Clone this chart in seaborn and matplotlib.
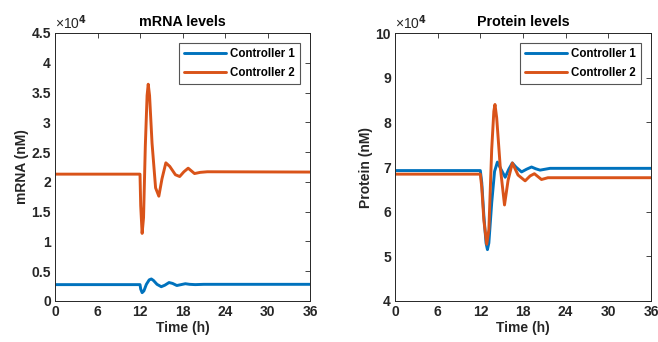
import numpy as np
import pandas as pd
import matplotlib
matplotlib.use("Agg")
import matplotlib.pyplot as plt
from matplotlib.ticker import FuncFormatter
import seaborn as sns

# ---- data, values in nM ----
mrna_c1_t = [0, 12.0, 12.1, 12.3, 12.55, 12.9, 13.3, 13.6, 13.9, 14.4, 15.0, 15.5, 16.1, 16.6, 17.2, 17.8, 18.4, 19.0, 19.8, 21.0, 36]
mrna_c1_v = [2750, 2750, 2000, 1400, 1700, 2800, 3550, 3700, 3450, 2800, 2400, 2650, 3100, 2950, 2600, 2750, 2900, 2800, 2750, 2800, 2800]
mrna_c2_t = [0, 12.0, 12.1, 12.3, 12.5, 12.75, 13.0, 13.16, 13.35, 13.7, 14.2, 14.66, 15.1, 15.65, 16.2, 17.0, 17.6, 18.2, 18.8, 19.3, 19.7, 20.5, 21.5, 36]
mrna_c2_v = [21300, 21300, 16000, 11350, 14000, 26000, 34500, 36400, 34500, 26500, 19000, 17600, 20500, 23200, 22600, 21200, 20900, 21700, 22300, 21800, 21400, 21600, 21700, 21650]

prot_c1_t = [0, 12.0, 12.2, 12.5, 12.8, 13.0, 13.2, 13.6, 14.0, 14.4, 14.9, 15.5, 16.0, 16.5, 17.0, 17.8, 18.5, 19.2, 19.8, 20.4, 21.8, 36]
prot_c1_v = [69200, 69200, 66500, 59000, 53000, 51500, 53000, 62000, 69000, 71100, 69500, 67700, 69500, 70900, 70000, 68900, 69500, 70000, 69600, 69300, 69700, 69700]
prot_c2_t = [0, 12.0, 12.2, 12.5, 12.9, 13.2, 13.6, 13.9, 14.06, 14.3, 14.8, 15.4, 15.9, 16.5, 17.3, 18.3, 19.0, 19.6, 20.6, 21.5, 36]
prot_c2_v = [68400, 68400, 65500, 58000, 52700, 56000, 74000, 82500, 84000, 81000, 70000, 61500, 67000, 70900, 68200, 66900, 68000, 68500, 67200, 67600, 67600]

series_names = ["Controller 1", "Controller 2"]
x_ticks = [0, 6, 12, 18, 24, 30, 36]
mrna_ticks = [0, 5000, 10000, 15000, 20000, 25000, 30000, 35000, 40000, 45000]
prot_ticks = [40000, 50000, 60000, 70000, 80000, 90000, 100000]

def frame(t1, v1, t2, v2):
    return pd.concat([
        pd.DataFrame({"t": t1, "v": v1, "s": series_names[0]}),
        pd.DataFrame({"t": t2, "v": v2, "s": series_names[1]}),
    ], ignore_index=True)

mrna_df = frame(mrna_c1_t, mrna_c1_v, mrna_c2_t, mrna_c2_v)
prot_df = frame(prot_c1_t, prot_c1_v, prot_c2_t, prot_c2_v)

sns.set_theme(style="white")
plt.rcParams['font.family'] = ['Liberation Sans', 'DejaVu Sans']
plt.rcParams['font.weight'] = 'bold'
plt.rcParams['axes.labelweight'] = 'bold'
plt.rcParams['axes.titleweight'] = 'bold'

ink = "#262626"
palette = {"Controller 1": "#0072BD", "Controller 2": "#D95319"}

fig = plt.figure(figsize=(6.58, 3.42), dpi=100)
ax1 = fig.add_axes([55/658, 41/342, 255/658, 268/342])
ax2 = fig.add_axes([395/658, 41/342, 256/658, 268/342])

fmt = FuncFormatter(lambda v, p: f"{v/1e4:g}")

for ax, df, ticks, ylim, ylabel, title in [
    (ax1, mrna_df, mrna_ticks, (0, 45000), "mRNA (nM)", "mRNA levels"),
    (ax2, prot_df, prot_ticks, (40000, 100000), "Protein (nM)", "Protein levels"),
]:
    sns.lineplot(data=df, x="t", y="v", hue="s", palette=palette, ax=ax,
                 linewidth=2.1, estimator=None, sort=False)
    ax.set_xlim(0, 36)
    ax.set_ylim(*ylim)
    ax.set_xticks(x_ticks)
    ax.set_yticks(ticks)
    ax.yaxis.set_major_formatter(fmt)
    ax.set_xlabel("Time (h)", fontsize=10, color=ink, labelpad=1)
    ax.set_ylabel(ylabel, fontsize=10, color=ink, labelpad=2)
    ax.set_title(title, fontsize=10.3, color="black", pad=5)
    ax.tick_params(direction="in", top=True, right=True, length=3.5, width=0.6,
                   colors=ink, labelsize=10, pad=3)
    for lab in ax.get_xticklabels() + ax.get_yticklabels():
        lab.set_fontweight("bold")
    for sp in ax.spines.values():
        sp.set_color(ink)
        sp.set_linewidth(0.7)
    ax.text(0.0, 1.005, "×10$^4$", transform=ax.transAxes, fontsize=10,
            fontweight="normal", color=ink, va="bottom", ha="left")
    leg = ax.legend(loc="upper right", fontsize=8.3, frameon=True, fancybox=False,
                    edgecolor="#555555", framealpha=1, handlelength=3.6,
                    borderpad=0.45, labelspacing=0.6, handletextpad=0.35,
                    borderaxespad=0, bbox_to_anchor=(0.961, 0.963))
    leg.get_frame().set_linewidth(0.8)
    for txt in leg.get_texts():
        txt.set_fontweight("bold")
        txt.set_color("black")
    ax.grid(False)

fig.savefig("out.png", dpi=100)
